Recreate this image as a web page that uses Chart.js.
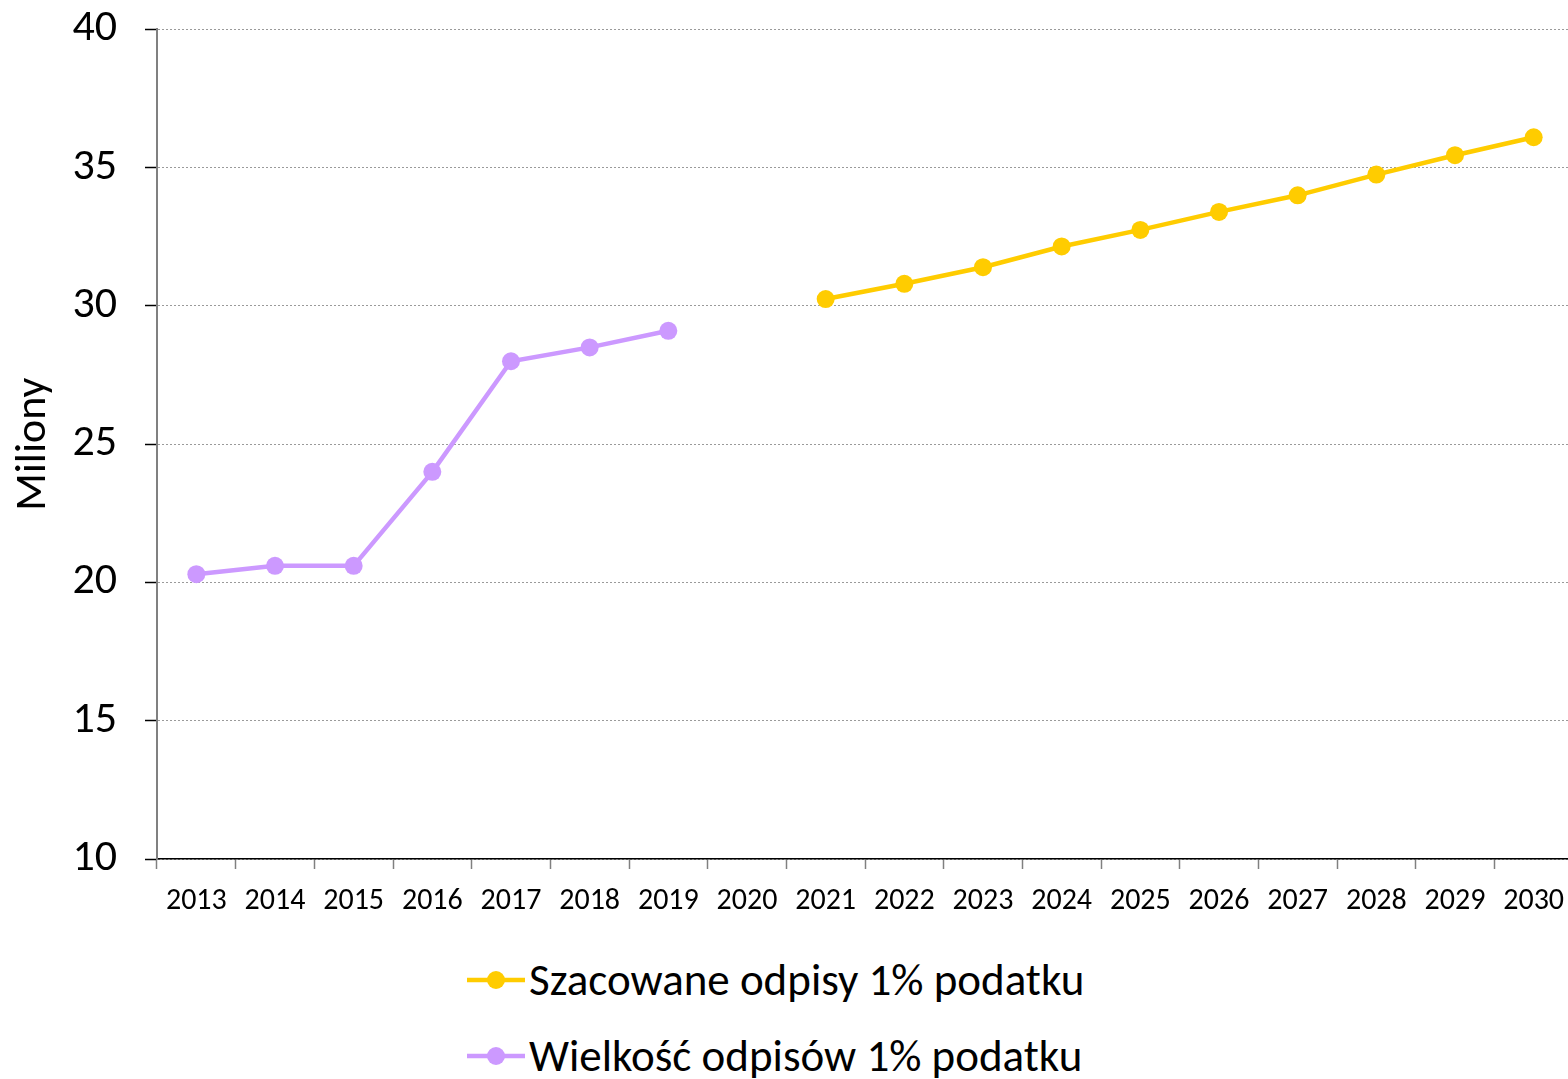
<!DOCTYPE html>
<html>
<head>
<meta charset="utf-8">
<script src="https://cdn.jsdelivr.net/npm/chart.js@4.4.1/dist/chart.umd.min.js"></script>
<style>
  html, body { margin: 0; padding: 0; background: #fff; }
  body { width: 1568px; height: 1079px; position: relative; overflow: hidden; font-family: Carlito, "Open Sans", sans-serif; }
  #wrap { position: absolute; left: 0; top: -25px; width: 1582px; height: 958px; }
  .leg { position: absolute; left: 467px; font-size: 45px; line-height: 54px; color: #000; display: flex; align-items: center; white-space: nowrap; }
  .leg canvas { margin-right: 4px; }
</style>
</head>
<body>
<div id="wrap"><canvas id="chart"></canvas></div>
<div class="leg" style="top:953px"><canvas id="lk1" width="58" height="24"></canvas><span>Szacowane odpisy 1% podatku</span></div>
<div class="leg" style="top:1029px"><canvas id="lk2" width="58" height="24"></canvas><span>Wielkość odpisów 1% podatku</span></div>
<script>
/* --------------- Data --------------- */
var years = ["2013", "2014", "2015", "2016", "2017", "2018", "2019", "2020", "2021",
  "2022", "2023", "2024", "2025", "2026", "2027", "2028", "2029", "2030"];

var actual = [20.3, 20.6, 20.6, 24.0, 28.0, 28.5, 29.1, null, null,
  null, null, null, null, null, null, null, null, null];

var estimated = [null, null, null, null, null, null, null, null, 30.25,
  30.8, 31.4, 32.15, 32.75, 33.4, 34.0, 34.75, 35.45, 36.1];

var yTicks = [10, 15, 20, 25, 30, 35, 40];

var labelActual = "Wielkość odpisów 1% podatku";
var labelEstimated = "Szacowane odpisy 1% podatku";

var yellow = "#FFCC00";
var purple = "#CC99FF";
var fontName = "Carlito, 'Open Sans', sans-serif";

/* --------------- Legend keys (line + dot) --------------- */
function drawKey(id, color) {
  var c = document.getElementById(id).getContext("2d");
  c.strokeStyle = color;
  c.lineWidth = 4.5;
  c.beginPath();
  c.moveTo(0, 12);
  c.lineTo(58, 12);
  c.stroke();
  c.fillStyle = color;
  c.beginPath();
  c.arc(29, 12, 9, 0, Math.PI * 2);
  c.fill();
}
drawKey("lk1", yellow);
drawKey("lk2", purple);

/* --------------- Chart --------------- */
var ctx = document.getElementById("chart");
var myChart = new Chart(ctx, {
  type: "line",
  data: {
    labels: years,
    datasets: [
      {
        label: labelActual,
        data: actual,
        borderColor: purple,
        backgroundColor: purple,
        borderWidth: 4.5,
        pointRadius: 9,
        pointHoverRadius: 9,
        pointBorderWidth: 0,
        tension: 0,
        spanGaps: false,
      },
      {
        label: labelEstimated,
        data: estimated,
        borderColor: yellow,
        backgroundColor: yellow,
        borderWidth: 4.5,
        pointRadius: 9,
        pointHoverRadius: 9,
        pointBorderWidth: 0,
        tension: 0,
        spanGaps: false,
      },
    ],
  },
  options: {
    responsive: true,
    maintainAspectRatio: false,
    animation: false,
    layout: { padding: { top: 0, right: 0, left: 0, bottom: 0 } },
    plugins: {
      legend: { display: false },
      tooltip: { enabled: false },
    },
    scales: {
      x: {
        offset: true,
        grid: {
          offset: true,
          drawOnChartArea: false,
          drawTicks: true,
          tickLength: 10,
          tickColor: "#808080",
          tickWidth: 1.5,
        },
        border: { color: "#000", width: 1.5 },
        ticks: {
          color: "#000",
          font: { family: fontName, size: 30 },
          padding: 14,
          maxRotation: 0,
          autoSkip: false,
        },
      },
      y: {
        min: 10,
        max: 40,
        afterBuildTicks: function (axis) {
          axis.ticks = yTicks.map(function (v) { return { value: v }; });
        },
        afterFit: function (axis) { axis.width = 157; },
        grid: {
          color: "#9a9a9a",
          lineWidth: 1,
          drawTicks: true,
          tickLength: 12,
          tickColor: "#000",
          tickWidth: 1.5,
          tickBorderDash: [],
        },
        border: { color: "#808080", width: 2, dash: [2, 2] },
        ticks: {
          color: "#000",
          font: { family: fontName, size: 44 },
          padding: 28,
        },
        title: {
          display: true,
          text: "Miliony",
          color: "#000",
          font: { family: fontName, size: 44 },
          padding: { top: 8, bottom: 0 },
        },
      },
    },
  },
});
</script>
</body>
</html>
